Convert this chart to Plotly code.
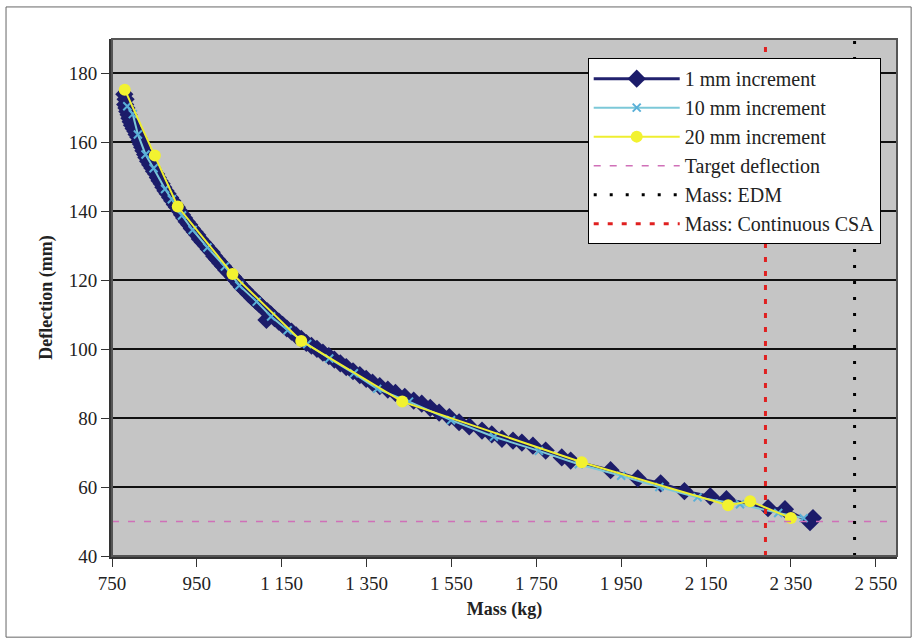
import plotly.graph_objects as go

# ---- data ----
mass_1mm = [779, 782, 781, 784, 786, 789, 791, 794, 797, 801, 805, 808, 812, 815, 818, 821, 824, 828, 831, 835,
            840, 845, 849, 854, 858, 862, 867, 871, 876, 881, 887, 892, 898, 903, 909, 915, 920, 926, 932, 938,
            945, 951, 957, 964, 971, 978, 985, 991, 998, 1005, 1012, 1019, 1027, 1035, 1042, 1049, 1056, 1064,
            1072, 1080, 1088, 1096, 1105, 1114, 1116, 1124, 1133, 1143, 1152, 1162, 1173, 1184, 1196, 1208,
            1220, 1233, 1247, 1261, 1274, 1288, 1302, 1318, 1334, 1349, 1364, 1381, 1400, 1418, 1440, 1461,
            1480, 1500, 1521, 1545, 1568, 1592, 1622, 1645, 1669, 1695, 1716, 1742, 1772, 1810, 1831, 1925,
            1989, 2043, 2099, 2160, 2198, 2296, 2336, 2395, 2402]
defl_1mm = [174.0, 172.5, 171.0, 170.0, 169.0, 168.0, 167.0, 166.0, 165.0, 164.0, 163.2, 162.3, 161.5, 160.5,
            159.5, 158.6, 157.6, 156.5, 155.6, 154.5, 153.5, 152.6, 151.6, 150.8, 149.8, 148.9, 148.0, 147.0,
            146.0, 145.1, 144.0, 143.1, 142.0, 141.2, 140.1, 139.0, 138.1, 137.0, 136.1, 135.0, 134.0, 133.1,
            132.0, 131.0, 130.1, 129.0, 128.1, 127.0, 126.0, 125.0, 124.1, 123.0, 122.0, 121.0, 120.1, 119.0,
            118.0, 117.1, 116.0, 115.0, 114.1, 113.2, 112.1, 108.5, 111.0, 110.1, 109.0, 108.0, 107.1, 106.0,
            105.1, 104.0, 103.0, 101.8, 101.0, 100.1, 99.0, 98.0, 97.0, 95.9, 94.8, 93.6, 92.5, 91.4, 90.3,
            89.3, 88.3, 87.3, 86.2, 85.1, 84.2, 83.0, 81.6, 80.3, 78.8, 77.6, 76.4, 75.3, 74.0, 73.5, 72.9,
            72.0, 70.6, 68.6, 67.7, 64.9, 62.5, 61.1, 58.8, 57.3, 56.5, 53.9, 53.6, 49.8, 51.0]

mass_10mm = [786, 799, 811, 829, 848, 875, 891, 915, 940, 975, 1016, 1050, 1091, 1125, 1164, 1210, 1262, 1320,
             1375, 1450, 1549, 1650, 1756, 1850, 1950, 2040, 2130, 2230, 2320, 2380]
defl_10mm = [170.5, 168.2, 162.3, 156.5, 152.5, 146.5, 143.5, 138.8, 134.6, 129.5, 124.0, 118.5, 113.8, 109.5,
             105.5, 101.5, 97.3, 93.0, 88.5, 84.8, 79.4, 74.6, 70.5, 66.6, 63.3, 60.0, 57.0, 55.0, 52.5, 51.0]

mass_20mm = [780, 851, 905, 1034, 1196, 1434, 1857, 2202, 2254, 2350]
defl_20mm = [175.3, 156.2, 141.4, 121.8, 102.4, 84.8, 67.2, 54.7, 55.9, 51.0]

target_deflection = 50
mass_edm = 2500
mass_csa = 2290

x_range = [750, 2600]
y_range = [40, 190]
x_tickvals = [750, 950, 1150, 1350, 1550, 1750, 1950, 2150, 2350, 2550]
x_ticktext = ["750", "950", "1 150", "1 350", "1 550", "1 750", "1 950", "2 150", "2 350", "2 550"]
y_tickvals = [40, 60, 80, 100, 120, 140, 160, 180]

FONT = "Liberation Serif"

fig = go.Figure()
fig.add_trace(go.Scatter(x=mass_1mm, y=defl_1mm, mode="lines+markers", name="1 mm increment",
                         line=dict(color="#22226e", width=3),
                         marker=dict(symbol="diamond", size=14, color="#1c1c6a")))
fig.add_trace(go.Scatter(x=mass_10mm, y=defl_10mm, mode="lines+markers", name="10 mm increment",
                         line=dict(color="#7cc8d8", width=2),
                         marker=dict(symbol="x-thin", size=8, line=dict(color="#5ab0d8", width=2), color="#5ab0d8")))
fig.add_trace(go.Scatter(x=mass_20mm, y=defl_20mm, mode="lines+markers", name="20 mm increment",
                         line=dict(color="#eeee30", width=2),
                         marker=dict(symbol="circle", size=12, color="#f2f230")))
fig.add_trace(go.Scatter(x=x_range, y=[target_deflection, target_deflection], mode="lines",
                         name="Target deflection", line=dict(color="#d070b8", width=1.5, dash="7px,9px")))
fig.add_trace(go.Scatter(x=[mass_edm, mass_edm], y=y_range, mode="lines", name="Mass: EDM",
                         line=dict(color="#000000", width=3, dash="3px,13px")))
fig.add_trace(go.Scatter(x=[mass_csa, mass_csa], y=y_range, mode="lines", name="Mass: Continuous CSA",
                         line=dict(color="#e02020", width=3, dash="5px,9px")))

fig.update_layout(
    width=918, height=643,
    margin=dict(l=112, r=21, t=39, b=87),
    paper_bgcolor="white",
    plot_bgcolor="#c5c5c5",
    font=dict(family=FONT, size=19, color="#222222"),
    showlegend=True,
    legend=dict(x=0.606, y=0.963, xanchor="left", yanchor="top",
                bgcolor="white", bordercolor="#000000", borderwidth=1,
                font=dict(family=FONT, size=20, color="#222222"),
                itemwidth=86, tracegroupgap=0),
    xaxis=dict(range=x_range, tickvals=x_tickvals, ticktext=x_ticktext, showgrid=False, zeroline=False,
               ticks="outside", ticklen=8, tickcolor="#333333", tickwidth=1,
               showline=True, linecolor="#333333", linewidth=3, mirror=False,
               title=dict(text="<b>Mass (kg)</b>", font=dict(family=FONT, size=18), standoff=10),
               tickfont=dict(family=FONT, size=19)),
    yaxis=dict(range=y_range, tickvals=y_tickvals, showgrid=True, gridcolor="#111111", gridwidth=2,
               zeroline=False, ticks="outside", ticklen=8, tickcolor="#333333", tickwidth=1,
               showline=True, linecolor="#333333", linewidth=3, mirror=False,
               title=dict(text="<b>Deflection (mm)</b>", font=dict(family=FONT, size=18), standoff=12),
               tickfont=dict(family=FONT, size=19)),
    shapes=[
        dict(type="rect", xref="paper", yref="paper", x0=0, x1=1, y0=0, y1=1,
             line=dict(color="#555555", width=2), layer="above"),
        dict(type="rect", xref="paper", yref="paper", x0=-0.135, x1=1.018, y0=-0.157, y1=1.062,
             line=dict(color="#666666", width=1)),
    ],
)

fig.write_html("out.html")
